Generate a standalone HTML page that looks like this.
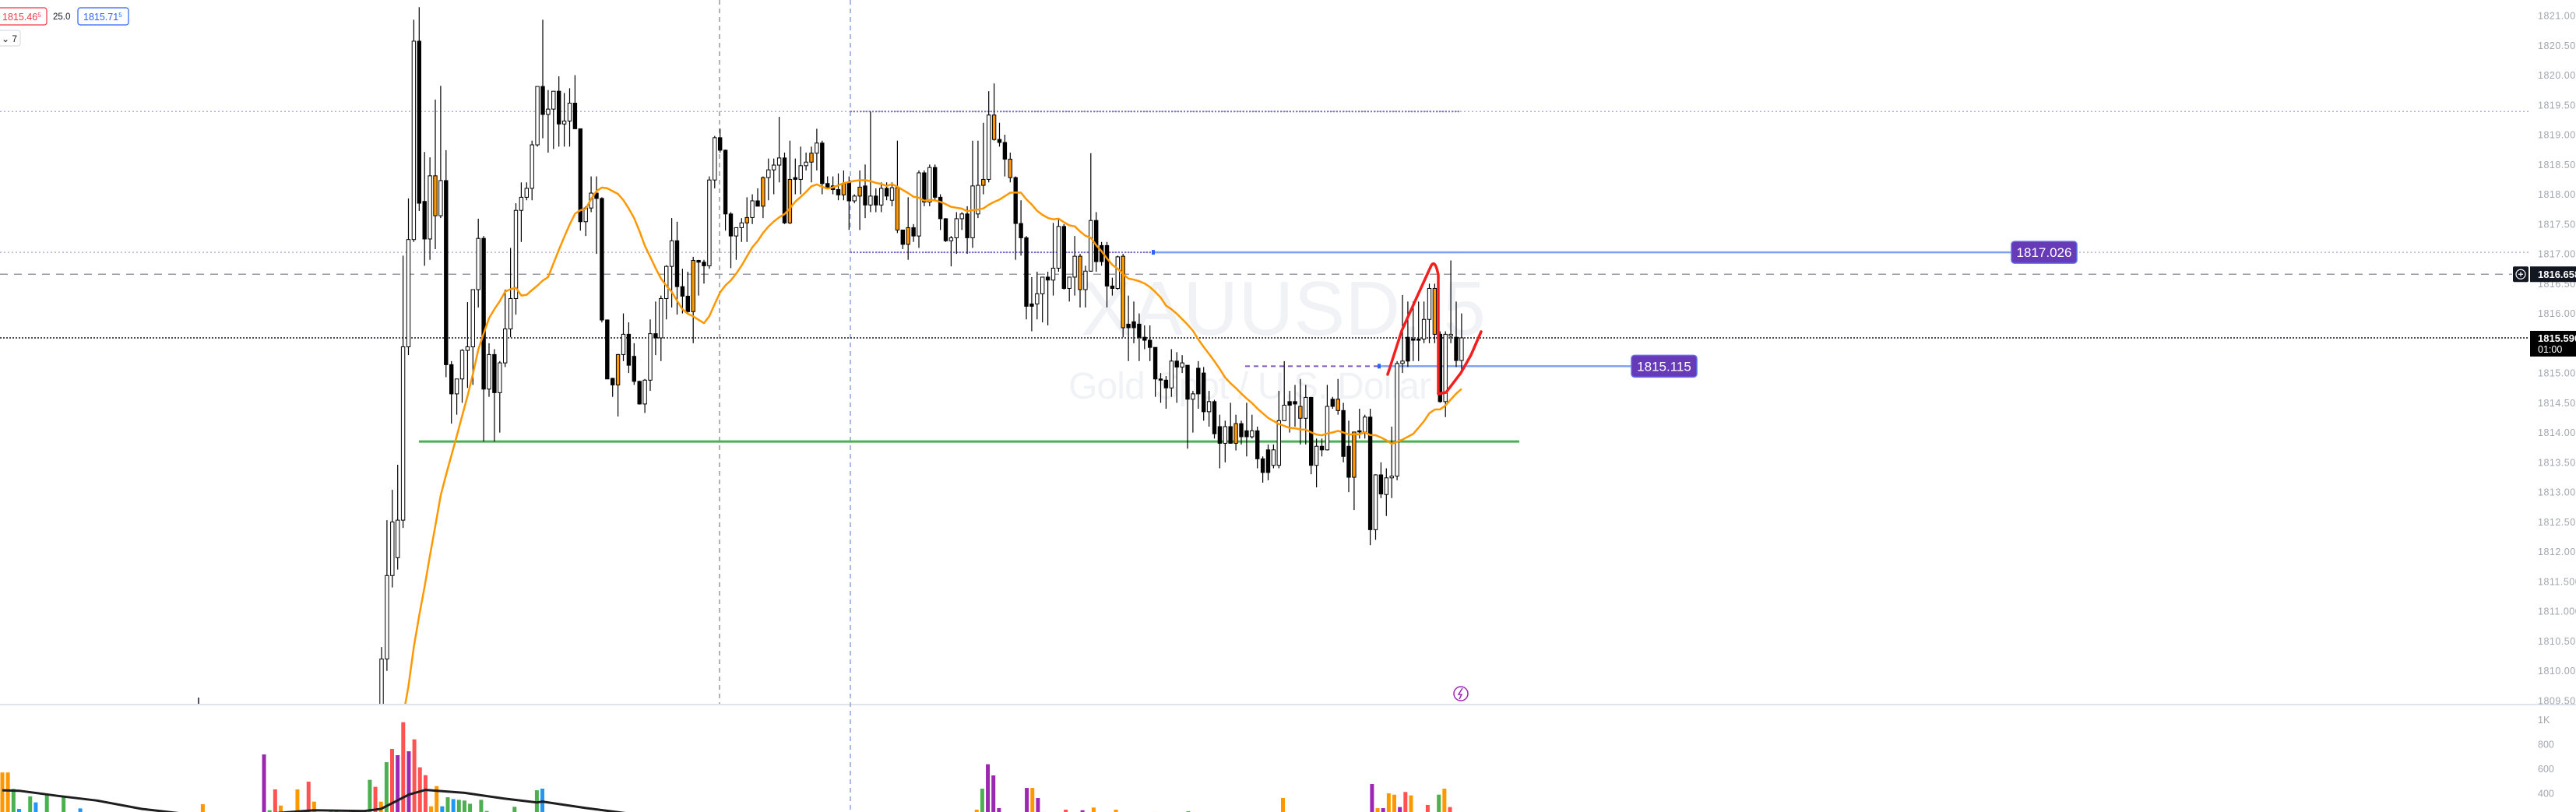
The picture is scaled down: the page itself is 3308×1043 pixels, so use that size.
<!DOCTYPE html>
<html><head><meta charset="utf-8">
<style>
html,body{margin:0;padding:0;background:#fff;}
svg{display:block;font-family:"Liberation Sans",sans-serif;}
</style></head>
<body>
<svg id="chart" width="3308" height="1043" viewBox="0 0 3308 1043" xmlns="http://www.w3.org/2000/svg">
<defs>
<clipPath id="pclip"><rect x="0" y="0" width="3248" height="904"/></clipPath>
<clipPath id="vclip"><rect x="0" y="906" width="3248" height="137"/></clipPath>
</defs>
<rect width="3308" height="1043" fill="#ffffff"/>
<g id="watermark">
<text x="1388" y="430" font-size="98" fill="#f0f2f5" textLength="520">XAUUSD, 5</text>
<text x="1372" y="512" font-size="48" fill="#f0f2f5" textLength="466">Gold Spot / U.S. Dollar</text>
</g>
<g id="grid"></g>
<g id="drawings"></g>
<g id="candles" clip-path="url(#pclip)"></g>
<g id="ma" clip-path="url(#pclip)"></g>
<g id="vol" clip-path="url(#vclip)"></g>
<g id="overlay"></g>
<g id="axis"></g>
</svg>
<script>
// ---- data ----
const opens=[1809.4,1810.2,1811.6,1811.9,1812.53,1815.44,1817.24,1820.57,1817.88,1817.25,1818.31,1817.64,1818.23,1815.14,1814.65,1814.90,1815.38,1815.44,1816.40,1817.26,1814.73,1815.31,1814.67,1815.17,1815.74,1816.25,1817.73,1817.95,1818.10,1818.83,1819.81,1819.34,1819.43,1819.73,1819.18,1819.23,1819.53,1819.10,1817.54,1817.77,1818.02,1817.93,1815.89,1814.91,1814.80,1815.31,1815.65,1815.28,1814.86,1814.48,1814.88,1815.66,1815.59,1816.25,1816.79,1817.22,1816.45,1816.29,1816.03,1816.89,1816.86,1816.80,1818.24,1818.95,1818.74,1817.67,1817.30,1817.44,1817.52,1817.61,1817.89,1817.80,1818.28,1818.41,1818.49,1818.61,1817.52,1818.28,1818.25,1818.48,1818.54,1818.69,1818.86,1818.18,1818.14,1818.08,1817.99,1818.19,1817.89,1817.97,1818.14,1817.82,1817.97,1817.82,1818.10,1817.90,1818.11,1817.40,1817.16,1817.44,1817.30,1818.36,1817.87,1818.45,1817.95,1817.59,1817.22,1817.27,1817.59,1817.67,1817.27,1817.67,1818.15,1818.25,1819.33,1818.92,1818.87,1818.59,1818.28,1817.51,1817.27,1816.16,1816.16,1816.33,1816.61,1816.56,1816.76,1817.46,1816.42,1816.61,1816.96,1816.40,1816.71,1817.56,1817.14,1817.14,1816.46,1816.42,1816.96,1815.82,1815.86,1815.82,1815.60,1815.55,1815.43,1814.90,1814.88,1814.75,1815.20,1815.10,1815.13,1814.56,1815.08,1815.00,1814.35,1814.52,1814.10,1813.82,1814.10,1813.82,1814.15,1814.03,1813.93,1814.03,1813.56,1813.71,1813.45,1813.45,1814.20,1814.52,1814.52,1814.44,1814.24,1814.59,1813.45,1813.77,1813.71,1814.56,1814.56,1814.37,1813.77,1813.25,1814.03,1814.01,1814.26,1812.37,1813.29,1812.96,1813.24,1813.27,1815.16,1815.60,1815.57,1815.57,1815.57,1815.90,1816.42,1815.65,1814.52,1815.62,1815.60,1815.21];
const highs=[1810.4,1812.53,1813.04,1813.46,1816.97,1817.93,1820.93,1821.14,1818.71,1818.62,1819.59,1819.82,1818.74,1815.2,1814.9,1815.4,1816.19,1816.4,1817.59,1817.3,1815.5,1815.4,1815.2,1816.4,1817.1,1817.85,1818.2,1818.2,1818.9,1819.4,1820.93,1819.75,1819.73,1819.98,1819.7,1819.78,1820.0,1819.1,1817.8,1818.3,1818.3,1817.95,1815.9,1814.92,1815.32,1816.0,1815.85,1815.5,1814.87,1814.9,1815.9,1816.2,1816.3,1816.81,1817.6,1817.54,1816.75,1816.7,1816.95,1816.9,1816.9,1818.3,1818.98,1819.1,1818.75,1817.7,1817.4,1817.6,1817.95,1818.0,1818.1,1818.3,1818.6,1818.6,1819.3,1818.7,1818.9,1818.6,1818.8,1818.7,1818.8,1819.1,1818.9,1818.3,1818.3,1818.35,1818.4,1818.3,1818.0,1818.4,1818.5,1819.39,1818.1,1818.2,1818.2,1818.2,1818.9,1817.4,1817.95,1817.5,1818.4,1818.4,1818.5,1818.5,1818.0,1817.6,1817.3,1817.7,1817.7,1817.8,1818.9,1818.9,1819.2,1819.73,1819.86,1819.2,1819.0,1818.7,1818.3,1817.9,1817.3,1816.61,1816.7,1816.6,1816.7,1817.52,1817.6,1817.5,1816.6,1817.3,1817.0,1816.8,1818.69,1817.7,1817.2,1817.2,1816.6,1816.97,1817.0,1816.3,1816.2,1816.0,1815.8,1815.8,1815.43,1815.0,1814.95,1815.4,1815.35,1815.3,1815.13,1814.7,1815.2,1815.1,1814.7,1814.55,1814.3,1814.2,1814.5,1814.3,1814.2,1814.5,1814.3,1814.1,1813.6,1813.8,1813.8,1814.7,1815.2,1814.7,1814.8,1814.9,1814.8,1814.6,1813.9,1813.9,1814.8,1814.6,1814.9,1814.5,1814.2,1814.0,1814.4,1814.3,1814.4,1813.3,1813.5,1813.4,1814.1,1815.2,1816.31,1816.2,1816.2,1816.2,1816.2,1816.5,1816.5,1815.7,1815.7,1816.89,1816.2,1816.0];
const lows=[1809.3,1810.0,1811.4,1811.7,1812.4,1815.3,1817.2,1817.72,1816.8,1816.9,1817.08,1817.6,1814.93,1814.15,1814.3,1814.5,1814.75,1814.8,1816.1,1813.85,1814.6,1813.85,1814.0,1815.1,1815.6,1815.98,1817.2,1817.9,1817.9,1818.8,1818.94,1818.7,1818.76,1818.8,1818.8,1818.8,1819.1,1817.39,1817.3,1817.7,1817.0,1815.85,1814.9,1814.6,1814.27,1815.2,1815.0,1814.8,1814.47,1814.33,1814.7,1815.3,1815.2,1815.9,1816.1,1815.98,1816.0,1816.0,1815.5,1816.3,1816.5,1816.75,1818.1,1818.7,1817.39,1816.76,1816.9,1817.2,1817.2,1817.5,1817.8,1817.6,1817.9,1818.0,1818.2,1817.5,1817.5,1818.0,1818.0,1818.4,1818.2,1818.4,1818.0,1818.1,1818.0,1817.9,1817.9,1817.4,1817.85,1817.4,1817.6,1817.7,1817.7,1817.7,1817.9,1817.8,1817.35,1817.08,1816.9,1817.2,1817.1,1817.8,1817.8,1817.9,1817.4,1817.2,1816.79,1817.0,1817.4,1817.0,1817.1,1817.6,1818.0,1818.2,1818.9,1818.8,1818.3,1818.2,1816.9,1816.97,1815.9,1815.7,1815.9,1815.85,1815.8,1816.3,1816.7,1816.4,1816.2,1816.3,1816.1,1816.1,1816.7,1816.7,1816.8,1816.1,1816.3,1816.4,1815.6,1815.2,1815.5,1815.2,1815.4,1815.2,1814.6,1814.5,1814.4,1814.6,1814.5,1815.0,1813.73,1814.0,1814.4,1814.2,1814.1,1813.9,1813.4,1813.5,1813.9,1813.7,1813.8,1813.6,1813.9,1813.4,1813.16,1813.2,1813.4,1813.4,1814.2,1814.0,1814.1,1813.8,1813.8,1813.3,1813.08,1813.6,1813.7,1814.4,1814.3,1813.5,1813.0,1812.70,1813.9,1813.9,1812.11,1812.2,1812.9,1812.6,1812.9,1813.2,1815.0,1815.1,1815.2,1815.2,1815.5,1815.5,1815.5,1814.5,1814.26,1815.5,1815.1,1815.0];
const closes=[1810.2,1811.6,1812.5,1812.53,1815.44,1817.24,1820.57,1817.85,1817.25,1818.31,1817.64,1818.23,1815.14,1814.65,1814.90,1815.38,1815.44,1816.40,1817.26,1814.73,1815.31,1814.67,1815.17,1815.74,1816.25,1817.73,1817.95,1818.10,1818.83,1819.81,1819.34,1819.43,1819.73,1819.18,1819.23,1819.53,1819.10,1817.54,1817.77,1818.02,1817.93,1815.89,1814.90,1814.80,1815.31,1815.65,1815.13,1814.86,1814.48,1814.88,1815.66,1815.59,1816.25,1816.79,1817.22,1816.45,1816.29,1816.03,1816.89,1816.86,1816.80,1818.24,1818.95,1818.74,1817.67,1817.30,1817.44,1817.52,1817.61,1817.89,1817.80,1818.28,1818.41,1818.49,1818.61,1817.52,1818.25,1818.25,1818.48,1818.54,1818.69,1818.86,1818.18,1818.12,1818.08,1817.99,1818.18,1817.89,1817.97,1818.12,1817.82,1817.97,1817.82,1818.10,1817.97,1818.11,1817.40,1817.16,1817.44,1817.30,1818.36,1817.87,1818.45,1817.95,1817.59,1817.22,1817.27,1817.59,1817.67,1817.27,1818.14,1818.15,1818.25,1819.33,1818.92,1818.87,1818.59,1818.28,1817.51,1817.27,1816.12,1816.12,1816.33,1816.61,1816.56,1816.76,1817.46,1816.42,1816.61,1816.96,1816.40,1816.71,1817.56,1816.87,1816.87,1816.46,1816.42,1816.95,1815.76,1815.76,1815.76,1815.60,1815.55,1815.43,1814.90,1814.88,1814.75,1815.20,1815.10,1815.17,1814.56,1814.65,1814.65,1814.35,1814.52,1813.98,1813.82,1814.10,1813.82,1814.15,1813.93,1813.93,1814.03,1813.56,1813.33,1813.33,1813.71,1814.20,1814.46,1814.46,1814.48,1814.24,1814.59,1813.45,1813.77,1813.71,1814.44,1814.44,1814.37,1813.60,1813.25,1814.01,1814.01,1814.26,1812.37,1813.29,1812.97,1813.24,1813.27,1815.16,1815.20,1815.20,1815.55,1815.55,1815.90,1816.42,1815.65,1814.52,1815.65,1815.65,1815.21,1815.59];
const signalBars=[10,44,58,68,71,76,80,86,89,96,98,112,114,117,130,138,159,171,178,181,196];
const prevCloses=[1806.8,1807.0,1806.9,1807.2,1807.1,1807.4,1807.3,1807.6,1807.8,1807.7,1808.0,1808.2,1808.1,1808.4,1808.6,1808.8,1809.0,1809.1,1809.3];
const maPeriod=20;
const priceTicks=[1821,1820.5,1820,1819.5,1819,1818.5,1818,1817.5,1817,1816.5,1816,1815.5,1815,1814.5,1814,1813.5,1813,1812.5,1812,1811.5,1811,1810.5,1810,1809.5];
const volIdx=[0,1,2,3,5,6,8,11,14,16,20,36,47,48,49,50,51,53,55,56,57,58,59,60,61,62,63,64,66,67,68,69,70,71,72,73,74,75,76,77,78,79,80,81,82,83,84,86,87,92,93,96,97,113,175,176,177,178,179,184,185,186,187,191,194,196,197,200,201,207,213,230,231,246,247,248,249,250,251,252,253,254,256,258,259,260];
const volValues=[570,570,436,273,375,326,394,375,277,235,235,311,717,262,432,300,245,432,495,332,240,245,250,260,245,240,255,260,510,453,332,654,762,711,980,743,840,612,548,294,459,294,368,353,347,341,315,347,256,290,235,425,438,246,267,438,637,546,279,444,444,362,248,267,262,284,240,267,230,248,254,362,240,476,279,279,400,389,288,411,383,230,305,389,438,288];
const volKinds="OOGBGBGGBBBOPGROGORORGGGGGGGGROGRPRPRRROOBGBGGGGGGBGBOOGPPPPOPPRPOOOOOGOOPOPOOPRORRGOROR".split("");
const volMAIdx=[0,3,10,17,25,34,39,47,51,56,65,68,73,76,83,90,96,97,105,115];
const volMAValues=[425,421,379,341,273,226,222,231,245,262,256,273,389,428,404,358,326,332,279,220];
const volTicks=[1000,800,600,400];
const volTickLabels=["1K","800","600","400"];
const levelHigh=1819.39, levelMid=1817.026, levelLow=1815.115, levelSupport=1813.85;
const lastPrice=1815.59, markPrice=1816.658;

// ---- scales ----
const NS="http://www.w3.org/2000/svg";
const PX0=490, PSTEP=6.9;
function xc(i){return PX0+i*PSTEP;}
function yp(p){return 20+(1821-p)*76.52;}
function xv(i){return 3+i*7.15;}
function yv(v){return 1082-v*0.1575;}
function mk(tag,attrs,parent){const e=document.createElementNS(NS,tag);for(const k in attrs)e.setAttribute(k,attrs[k]);parent.appendChild(e);return e;}

const gGrid=document.getElementById('grid');
const gDraw=document.getElementById('drawings');
const gC=document.getElementById('candles');
const gMA=document.getElementById('ma');
const gV=document.getElementById('vol');
const gO=document.getElementById('overlay');
const gA=document.getElementById('axis');

// pane separator & verticals
let sep=mk('line',{x1:0,x2:3308,y1:905,y2:905,stroke:'#e0e3eb','stroke-width':2},gGrid);


let vl1=mk('line',{x1:924,x2:924,y1:0,y2:904,stroke:'#9598a1','stroke-width':1.5,'stroke-dasharray':'6,5'},gGrid);


let vl2=mk('line',{x1:1092,x2:1092,y1:0,y2:1043,stroke:'#8ea3d6','stroke-width':1.5,'stroke-dasharray':'6,5'},gGrid);



// horizontal levels
function hline(y,x1,x2,stroke,w,dash,name){const l=mk('line',{x1:x1,x2:x2,y1:y,y2:y,stroke:stroke,'stroke-width':w},gDraw);if(dash)l.setAttribute('stroke-dasharray',dash);return l;}
hline(yp(levelHigh),0,3248,'#9c8fd6',1.2,'2,3','level-high-thin');
hline(yp(levelHigh),1092,1876,'#7e6ad0',2,'2,2','level-high-line');
hline(yp(levelMid),0,3248,'#a9a3cf',1.2,'2,3','level-mid-thin');
hline(yp(levelMid),1092,1876,'#7e6ad0',2,'2,2','level-mid-dotted');
hline(yp(levelMid),1481,2583,'#7fa3f2',2.5,null,'level-mid-line');
hline(yp(markPrice),0,3226,'#9598a1',1.5,'10,8','mark-price-line');
hline(yp(lastPrice),0,3248,'#131722',1.5,'2,2','last-price-line');
hline(yp(levelLow),1599,1771,'#7e57c2',2,'6,5','level-low-dashed');
hline(yp(levelLow),1771,2095,'#7fa3f2',2.5,null,'level-low-line');
hline(yp(levelSupport),538,1951,'#4caf50',3,null,'support-line');
let dot1=mk('rect',{x:1479,y:yp(levelMid)-3,width:4,height:6,fill:'#2962ff'},gDraw);


let dot2=mk('rect',{x:1769,y:yp(levelLow)-3,width:4,height:6,fill:'#2962ff'},gDraw);



// candles
const sigSet=new Set(signalBars);
for(let i=0;i<closes.length;i++){
  const x=xc(i), o=opens[i], c=closes[i];
  const g=mk('g',{},gC);
  
  
  mk('line',{x1:x,x2:x,y1:yp(highs[i]),y2:yp(lows[i]),stroke:'#000','stroke-width':1.2},g);
  const top=yp(Math.max(o,c)), bot=yp(Math.min(o,c));
  let fill=c>=o?'#ffffff':'#000000';
  if(sigSet.has(i))fill='#ff9800';
  mk('rect',{x:x-2.2,y:top,width:4.4,height:Math.max(1.5,bot-top),fill:fill,stroke:'#000','stroke-width':1},g);
}

// moving average
const allC=prevCloses.concat(closes);
let pts=[];
for(let i=0;i<closes.length;i++){
  const k=i+prevCloses.length;
  if(k+1<maPeriod)continue;
  let s=0;for(let j=k-maPeriod+1;j<=k;j++)s+=allC[j];
  pts.push(xc(i).toFixed(1)+','+yp(s/maPeriod).toFixed(1));
}
let ma=mk('polyline',{points:pts.join(' '),fill:'none',stroke:'#ff9800','stroke-width':2.5,'stroke-linejoin':'round'},gMA);



// red freehand drawing
let red=mk('path',{d:'M1782,481 L1800,425 L1822,376 L1838,341 Q1843,333 1847,353 L1847,506 L1857,504 L1876,479 L1889,456 L1902,426',fill:'none',stroke:'#f41e1e','stroke-width':3.5,'stroke-linejoin':'round','stroke-linecap':'round'},gO);



// level labels
function lvlLabel(x,y,txt,name){const g=mk('g',{},gO);
 mk('rect',{x:x,y:y-14,width:84,height:28,rx:4,fill:'#673ab7',stroke:'#5b6ff0','stroke-width':1.5},g);
 const t=mk('text',{x:x+42,y:y+6,'font-size':17,fill:'#ffffff','text-anchor':'middle'},g);t.textContent=txt;}
lvlLabel(2583,yp(levelMid),levelMid.toFixed(3),'level-mid-label');
lvlLabel(2095,yp(levelLow),levelLow.toFixed(3),'level-low-label');

// lightning icon
let li=mk('g',{},gO);


mk('circle',{cx:1876,cy:891,r:9,fill:'#fff',stroke:'#9c27b0','stroke-width':1.5},li);
mk('path',{d:'M1878,884 L1873,892 L1877,892 L1874,898',fill:'none',stroke:'#9c27b0','stroke-width':1.5},li);
let tick=mk('line',{x1:255,x2:255,y1:896,y2:904,stroke:'#131722','stroke-width':1.5},gO);



// volume
const vcol={O:'#ff9800',G:'#4caf50',B:'#2196f3',P:'#9c27b0',R:'#ff5252'};
for(let k=0;k<volIdx.length;k++){
  const x=xv(volIdx[k]), t=yv(volValues[k]);
  const r=mk('rect',{x:x-2.5,y:t,width:5,height:1043-t,fill:vcol[volKinds[k]]||'#ff9800'},gV);
  
  
}
let vp=[];for(let k=0;k<volMAIdx.length;k++)vp.push(xv(volMAIdx[k]).toFixed(1)+','+yv(volMAValues[k]).toFixed(1));
let vma=mk('polyline',{points:vp.join(' '),fill:'none',stroke:'#1e1e1e','stroke-width':3},gV);



// price axis
for(const p of priceTicks){
  const t=mk('text',{x:3259,y:yp(p)+4.5,'font-size':12.5,fill:'#a3a6af','letter-spacing':'0.5'},gA);
  t.textContent=p.toFixed(3);
  
  
}
for(let k=0;k<volTicks.length;k++){
  const t=mk('text',{x:3259,y:yv(volTicks[k])+4.5,'font-size':12.5,fill:'#a3a6af'},gA);
  t.textContent=volTickLabels[k];
  
  
}
// mark price tag
let mp=mk('g',{},gA);


mk('rect',{x:3249,y:yp(markPrice)-10,width:59,height:20,fill:'#131722'},mp);
let mpt=mk('text',{x:3259,y:yp(markPrice)+5,'font-size':13,'font-weight':'bold',fill:'#fff'},mp);mpt.textContent=markPrice.toFixed(3);
let pb=mk('g',{},gA);


mk('rect',{x:3227,y:yp(markPrice)-10,width:20,height:20,rx:2,fill:'#131722'},pb);
mk('circle',{cx:3237,cy:yp(markPrice),r:6,fill:'none',stroke:'#fff','stroke-width':1.2},pb);
mk('path',{d:`M3234,${yp(markPrice)} h6 M3237,${yp(markPrice)-3} v6`,stroke:'#fff','stroke-width':1.2},pb);
// last price tag
let lp=mk('g',{},gA);


mk('rect',{x:3249,y:yp(lastPrice)-9,width:59,height:33,fill:'#000'},lp);
let lpt=mk('text',{x:3259,y:yp(lastPrice)+5,'font-size':13,'font-weight':'bold',fill:'#fff'},lp);lpt.textContent=lastPrice.toFixed(3);
let lpt2=mk('text',{x:3259,y:yp(lastPrice)+19,'font-size':12.5,fill:'#fff'},lp);lpt2.textContent='01:00';
</script>
<div style="position:absolute;left:0;top:0;">
<svg width="200" height="62" style="position:absolute;left:0;top:0">
<g><rect x="-2" y="10" width="62" height="22" rx="3" fill="#fff" stroke="#f23645" stroke-width="1.2"/><text x="3" y="26" font-size="12.5" fill="#f23645" font-family="Liberation Sans, sans-serif">1815.46<tspan font-size="8" dy="-4">5</tspan></text></g>
<text x="68" y="25" font-size="11.5" fill="#131722" font-family="Liberation Sans, sans-serif">25.0</text>
<g><rect x="100" y="10" width="65" height="22" rx="3" fill="#fff" stroke="#2962ff" stroke-width="1.2"/><text x="107" y="26" font-size="12.5" fill="#2962ff" font-family="Liberation Sans, sans-serif">1815.71<tspan font-size="8" dy="-4">5</tspan></text></g>
<g><rect x="-2" y="39" width="28" height="20" rx="3" fill="#fff" stroke="#d1d4dc"/><text x="2" y="54" font-size="12" fill="#131722" font-family="Liberation Sans, sans-serif">⌄ 7</text></g>
</svg>
</div>
</body></html>
